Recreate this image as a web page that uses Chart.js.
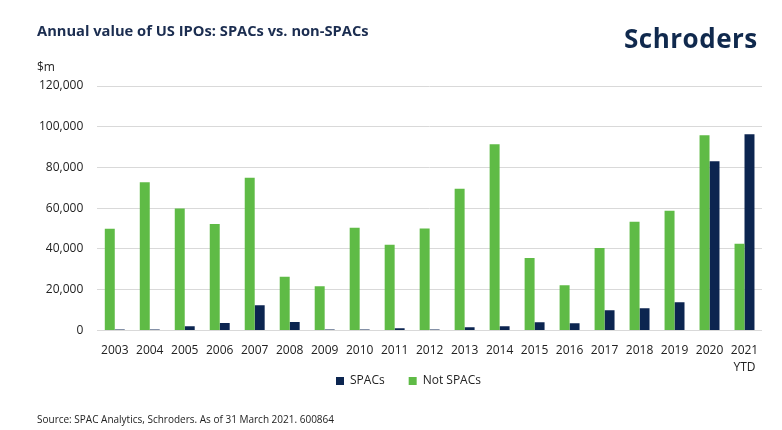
<!DOCTYPE html>
<html>
<head>
<meta charset="utf-8">
<script src="https://cdn.jsdelivr.net/npm/chart.js@4"></script>
<style>
  html, body { margin: 0; padding: 0; background: #fff; }
  #wrap { position: relative; width: 782px; height: 430px; overflow: hidden; font-family: "Open Sans", sans-serif; }
  #c { position: absolute; left: 0; top: 0; }
  .txt { position: absolute; white-space: nowrap; }
  #title { left: 37px; top: 20px; font-size: 14.7px; font-weight: 700; color: #1b2d50; }
  #logo { left: 624px; top: 19.5px; font-size: 26px; font-weight: 700; color: #10294d; letter-spacing: 0.5px; }
  #unit { left: 37px; top: 58px; font-size: 12px; color: #222; }
  #source { left: 37px; top: 412px; font-size: 10px; color: #222; }
</style>
</head>
<body>
<div id="wrap">
  <canvas id="c" width="782" height="430"></canvas>
  <div class="txt" id="title">Annual value of US IPOs: SPACs vs. non-SPACs</div>
  <div class="txt" id="logo">Schroders</div>
  <div class="txt" id="unit">$m</div>
  <div class="txt" id="source">Source: SPAC Analytics, Schroders. As of 31 March 2021. 600864</div>
</div>
<script>
const categories = ['2003','2004','2005','2006','2007','2008','2009','2010','2011','2012','2013','2014','2015','2016','2017','2018','2019','2020',['2021','YTD']];
const notSpacs = [49900, 72700, 59800, 52300, 75000, 26300, 21700, 50400, 42000, 50000, 69600, 91400, 35600, 22200, 40500, 53300, 58800, 95800, 42500];
const spacs = [500, 500, 2000, 3600, 12300, 4100, 500, 500, 1100, 500, 1500, 2000, 4000, 3500, 9900, 10900, 13800, 83000, 96300];
const yTicks = [0, 20000, 40000, 60000, 80000, 100000, 120000];

const GREEN = '#5fbb46';
const NAVY = '#0c2550';

// place the legend row just under the x labels, as in the reference
const legendPlace = {
  id: 'legendPlace',
  afterLayout(chart) {
    const lg = chart.legend;
    if (!lg) return;
    const dy = lg.top - 351;
    lg.top -= dy; lg.bottom -= dy;
    lg.left += 15; lg.right += 15;
  }
};

new Chart(document.getElementById('c'), {
  type: 'bar',
  data: {
    labels: categories,
    datasets: [
      { label: 'Not SPACs', data: notSpacs, backgroundColor: GREEN, borderWidth: 0 },
      { label: 'SPACs', data: spacs, backgroundColor: NAVY, borderWidth: 0 }
    ]
  },
  plugins: [legendPlace],
  options: {
    responsive: false,
    animation: false,
    devicePixelRatio: 1,
    layout: { padding: { left: 25, right: 20, top: 86, bottom: -4 } },
    datasets: { bar: { barPercentage: 1.0, categoryPercentage: 0.57 } },
    plugins: {
      title: { display: false },
      tooltip: { enabled: false },
      legend: {
        display: true,
        position: 'bottom',
        reverse: true,
        labels: {
          boxWidth: 8,
          boxHeight: 8,
          padding: 24,
          color: '#222',
          font: { family: 'Open Sans', size: 12 }
        }
      }
    },
    scales: {
      x: {
        grid: { display: false, drawTicks: false },
        border: { display: false },
        ticks: {
          color: '#222',
          font: { family: 'Open Sans', size: 12, lineHeight: 1.4 },
          padding: 12,
          maxRotation: 0,
          autoSkip: false
        }
      },
      y: {
        min: 0,
        max: 120000,
        afterBuildTicks: (scale) => { scale.ticks = yTicks.map(v => ({ value: v })); },
        grid: { color: '#d9d9d9', lineWidth: 1, drawTicks: false },
        border: { display: false },
        ticks: {
          color: '#222',
          font: { family: 'Open Sans', size: 12 },
          padding: 14,
          callback: (v) => Number(v).toLocaleString('en-US')
        }
      }
    }
  }
});
</script>
</body>
</html>
